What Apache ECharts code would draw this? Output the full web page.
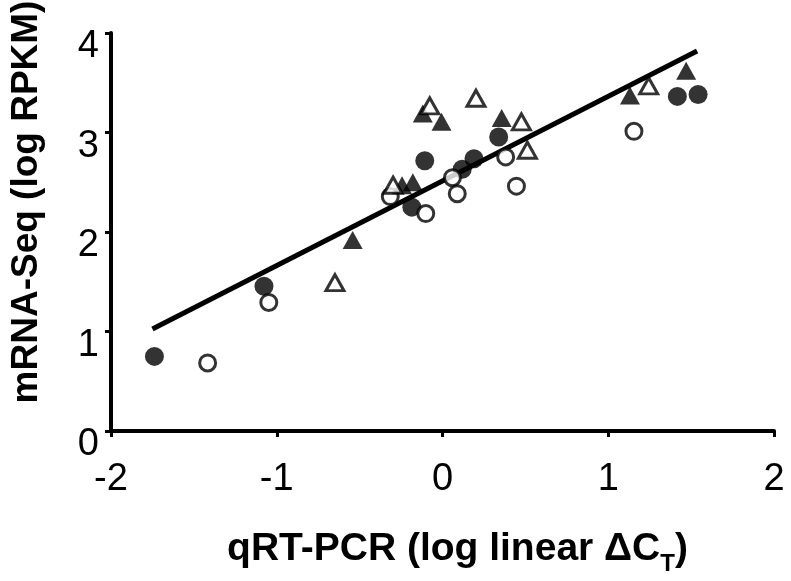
<!DOCTYPE html>
<html>
<head>
<meta charset="utf-8">
<script src="https://cdn.jsdelivr.net/npm/echarts@6/dist/echarts.min.js"></script>
<style>html,body{margin:0;padding:0;background:#fff}#c{width:791px;height:581px}</style>
</head>
<body>
<div id="c"></div>
<script>
// Data
const filledCircles = [[-1.738,0.75],[-1.077,1.454],[-0.185,2.25],[-0.107,2.717],[0.119,2.63],[0.190,2.736],[0.339,2.955],[1.417,3.363],[1.542,3.382]];
const openCircles = [[-1.417,0.684],[-1.048,1.292],[-0.315,2.356],[-0.101,2.185],[0.060,2.546],[0.089,2.385],[0.381,2.755],[0.446,2.461],[1.155,3.012]];
const filledTriangles = [[-0.542,1.919],[-0.244,2.47],[-0.179,2.499],[-0.119,3.192],[-0.006,3.107],[0.357,3.145],[1.131,3.373],[1.470,3.62]];
const openTriangles = [[-0.649,1.492],[-0.298,2.47],[-0.077,3.268],[0.202,3.344],[0.476,3.107],[0.512,2.822],[1.244,3.468]];
const fitLine = [[-1.75,1.026],[1.536,3.82]];
const xTicks = [-2,-1,0,1,2];
const yTicks = [0,1,2,3,4];

const chart = echarts.init(document.getElementById('c'), null, {renderer:'canvas'});
const font = 'Liberation Sans, Arial, sans-serif';
const axisCommon = {
  axisLine:{show:true,onZero:false,lineStyle:{color:'#000',width:4}},
  axisTick:{show:true,inside:false,length:6,lineStyle:{color:'#000',width:3}},
  splitLine:{show:false}
};
chart.setOption({
  animation:false,
  backgroundColor:'#fff',
  grid:{left:102,right:17,top:33,bottom:127,containLabel:false},
  xAxis:Object.assign({
    type:'value',min:xTicks[0],max:xTicks[xTicks.length-1],interval:1,
    axisLabel:{color:'#000',fontSize:38,fontFamily:font,margin:30,formatter:v=>String(v)},
    name:'{a|qRT-PCR (log linear ΔC}{s|T}{a|)}',
    nameLocation:'middle',nameGap:96,
    nameTextStyle:{padding:[0,0,0,30],rich:{
      a:{fontSize:39,fontWeight:'bold',fontFamily:font,color:'#000',lineHeight:44},
      s:{fontSize:24,fontWeight:'bold',fontFamily:font,color:'#000',lineHeight:24,padding:[30,0,0,0]}
    }}
  },axisCommon),
  yAxis:Object.assign({
    type:'value',min:yTicks[0],max:yTicks[yTicks.length-1],interval:1,
    axisLabel:{color:'#000',fontSize:38,fontFamily:font,margin:12,verticalAlign:'top',lineHeight:28,formatter:v=>String(v)},
    name:'mRNA-Seq (log RPKM)',
    nameLocation:'middle',nameGap:66,
    nameTextStyle:{color:'#000',fontSize:37,fontWeight:'bold',fontFamily:font,padding:[0,0,0,60]}
  },axisCommon),
  series:[
    {type:'line',data:fitLine,showSymbol:false,symbol:'none',lineStyle:{color:'#000',width:5},z:1},
    {type:'scatter',data:filledCircles,symbol:'circle',symbolSize:19,itemStyle:{color:'#000'},z:3},
    {type:'scatter',data:openCircles,symbol:'circle',symbolSize:16,itemStyle:{color:'#fff',borderColor:'#000',borderWidth:3},z:3},
    {type:'scatter',data:filledTriangles,symbol:'triangle',symbolSize:[20,18],itemStyle:{color:'#000'},z:3},
    {type:'scatter',data:openTriangles,symbol:'triangle',symbolSize:[18,16],itemStyle:{color:'#fff',borderColor:'#000',borderWidth:3},z:3}
  ]
});
</script>
</body>
</html>
